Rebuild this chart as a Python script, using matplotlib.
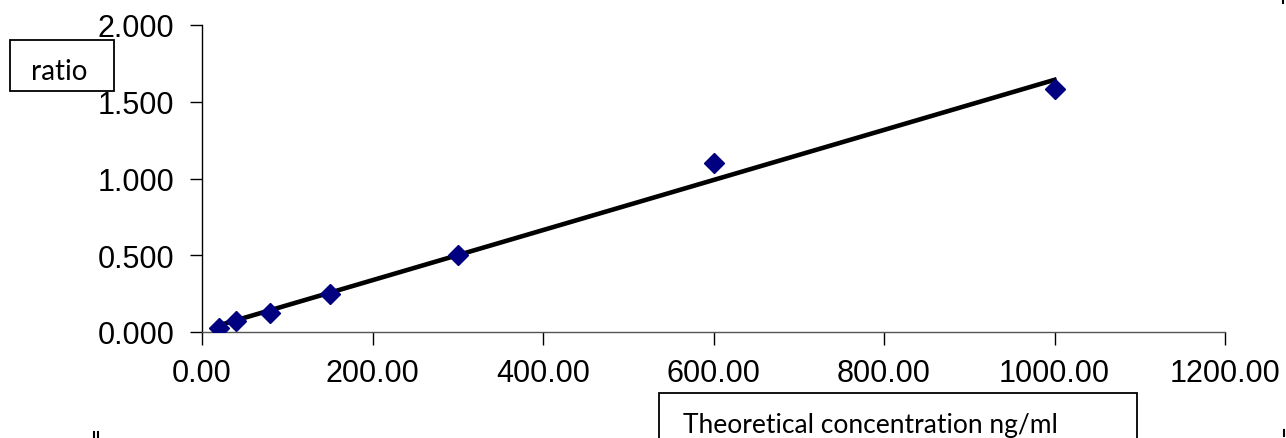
import numpy as np
import matplotlib.pyplot as plt
from matplotlib.lines import Line2D

# calibration points
concentration = [20, 40, 80, 150, 300, 600, 1000]
ratio = [0.026, 0.073, 0.123, 0.250, 0.500, 1.100, 1.580]

x_ticks = [0, 200, 400, 600, 800, 1000, 1200]
y_ticks = [0.0, 0.5, 1.0, 1.5, 2.0]

plt.rcParams['font.family'] = ['Liberation Sans', 'DejaVu Sans']

W, H = 1286, 439
fig = plt.figure(figsize=(W / 100, H / 100), dpi=100)
ax = fig.add_axes([202 / W, 1 - 333 / H, (1225 - 202) / W, (333 - 26) / H])

# linear trend line over the measured range
slope, intercept = np.polyfit(concentration, ratio, 1)
xs = np.array([concentration[0], concentration[-1]])
ax.plot(xs, slope * xs + intercept, color='black', linewidth=3.3, zorder=2)
ax.plot(concentration, ratio, linestyle='none', marker='D', markersize=10.5,
        color='#000080', zorder=3)

ax.set_xlim(0, 1200)
ax.set_ylim(0, 2.0)
ax.set_xticks(x_ticks)
ax.set_yticks(y_ticks)
ax.set_xticklabels([f"{v:.2f}" for v in x_ticks])
ax.set_yticklabels([f"{v:.3f}" for v in y_ticks])
ax.tick_params(axis='both', labelsize=22, length=9, width=1, direction='out')
ax.tick_params(axis='x', pad=10)
ax.tick_params(axis='y', pad=11)

ax.spines['top'].set_visible(False)
ax.spines['right'].set_visible(False)
ax.spines['left'].set_linewidth(1)
ax.spines['bottom'].set_linewidth(1)
ax.spines['bottom'].set_color('#555555')

# boxed axis titles (sitting where the spreadsheet put them)
fig.patches.append(plt.Rectangle((10 / W, 1 - 92 / H), 104 / W, 51 / H,
                                 transform=fig.transFigure, facecolor='white',
                                 edgecolor='black', linewidth=1.3, zorder=5))
fig.text(59.5 / W, 1 - 80 / H, "ratio", fontsize=20, family=['Lato', 'DejaVu Sans'],
         ha='center', va='baseline', zorder=6)
fig.patches.append(plt.Rectangle((659 / W, -0.01), (1137 - 659) / W, 1 - 394 / H + 0.01,
                                 transform=fig.transFigure, facecolor='white',
                                 edgecolor='black', linewidth=1.3, zorder=5))
fig.text(683 / W, 1 - 433 / H, "Theoretical concentration ng/ml", fontsize=19,
         family=['Lato', 'DejaVu Sans'], ha='left', va='baseline', zorder=6)

# little corner marks of the original chart frame
for x0, y0, y1 in [(94, 433, 439), (98, 433, 439), (1284, 431, 437), (1283, 0, 4)]:
    fig.add_artist(Line2D([x0 / W, x0 / W], [1 - y0 / H, 1 - y1 / H],
                          transform=fig.transFigure, color='black', linewidth=1.5))

fig.savefig('out.png', dpi=100)
